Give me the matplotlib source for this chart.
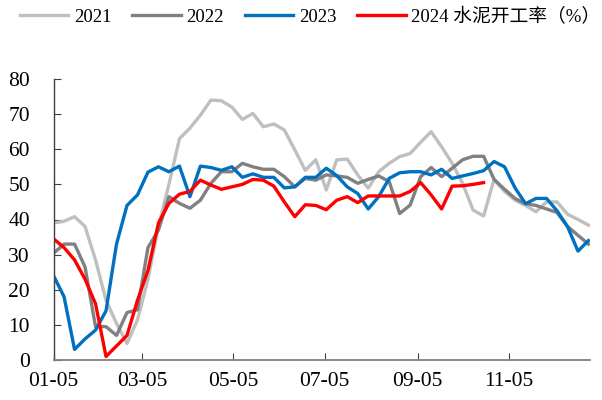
import numpy as np
import pandas as pd
import matplotlib
matplotlib.use('Agg')
import matplotlib.pyplot as plt
import matplotlib.dates as mdates

# weekly cement operating rate (%)
y2021 = [39, 39.5, 40.8, 38, 28.5, 17, 10.4, 4.7, 11.4, 23, 38, 50, 63, 66, 69.7, 74,
         73.8, 72, 68.5, 70.2, 66.4, 67.2, 65.5, 59.8, 54, 57, 48.4, 57, 57.2, 52.7,
         48.9, 53.6, 56, 57.9, 58.8, 62, 65, 60.7, 56, 50.3, 42.7, 41, 51.4, 48, 45.5,
         44, 42.2, 45, 45, 41.5, 40, 38.4]
y2022 = [30.4, 33, 33, 26.5, 9.5, 9.5, 7, 13.5, 14.3, 32, 37, 46.5, 44.6, 43.2, 45.5,
         50.3, 53.6, 53.6, 56, 55, 54.3, 54.3, 52.2, 49.3, 51.7, 51.2, 52.7, 52.4, 52,
         50.3, 51.4, 52.4, 50.8, 41.7, 44.1, 52.2, 54.8, 52.2, 54.6, 57, 58, 58, 51.4,
         48.6, 46, 44.5, 44, 43, 42, 38, 35.5, 33]
y2023 = [24, 18, 3, 6, 8.5, 14, 33, 44, 47, 53.5, 55, 53.6, 55.2, 46.5, 55.2, 54.8, 54,
         55, 52, 53, 52, 52, 49, 49.3, 52, 52, 54.6, 52.5, 49.3, 47.4, 43, 46.5, 51.7,
         53.3, 53.6, 53.6, 52.7, 54.3, 51.7, 52.4, 53.1, 53.9, 56.5, 55, 49, 44.5, 46,
         46, 42.5, 38, 31, 34]
y2024 = [34.5, 32, 28.5, 23, 16, 1, 4, 7, 17, 25.5, 39, 44.6, 47.2, 48, 51.2, 49.8,
         48.6, 49.3, 50, 51.4, 51.2, 49.5, 45, 40.8, 44.2, 44, 42.8, 45.5, 46.5, 44.8,
         46.7, 46.7, 46.7, 46.7, 48, 50.5, 47, 43, 49.5, 49.6, 50, 50.5]

weeks = pd.date_range('2023-01-05', periods=52, freq='7D')
tick_dates = pd.to_datetime(['2023-01-05', '2023-03-05', '2023-05-05',
                             '2023-07-05', '2023-09-05', '2023-11-05'])

plt.rcParams['font.family'] = ['Liberation Serif', 'Noto Sans CJK SC']

fig = plt.figure(figsize=(6.02, 4.0), dpi=100)
ax = fig.add_axes([0.089, 0.1, 0.891, 0.7025])

lw = 2.4
ax.plot(weeks, y2021, color='#BFBFBF', lw=lw, label='2021')
ax.plot(weeks, y2022, color='#808080', lw=lw, label='2022')
ax.plot(weeks, y2023, color='#0070C0', lw=lw, label='2023')
ax.plot(weeks[:len(y2024)], y2024, color='#FF0000', lw=lw, label='2024 水泥开工率（%）')

ax.set_ylim(0, 80)
ax.set_yticks(np.arange(0, 81, 10))
ax.set_xlim(weeks[0], weeks[-1] + pd.Timedelta(days=1))
ax.set_xticks(tick_dates)
ax.xaxis.set_major_formatter(mdates.DateFormatter('%m-%d'))

for s in ['top', 'right']:
    ax.spines[s].set_visible(False)
ax.spines['left'].set_color('#404040')
ax.spines['bottom'].set_color('#808080')
ax.spines['left'].set_linewidth(1.0)
ax.spines['bottom'].set_linewidth(1.3)
ax.tick_params(axis='both', direction='in', length=5, labelsize=15.5, colors='#404040',
               labelcolor='black')
ax.tick_params(axis='x', pad=9)
ax.tick_params(axis='y', pad=17)

ax.legend(loc='center', bbox_to_anchor=(0.515, 0.958), bbox_transform=fig.transFigure,
          ncol=4, frameon=False, fontsize=13.5, handlelength=2.6, handletextpad=0.3,
          columnspacing=1.1)

fig.savefig('out.png', dpi=100)
